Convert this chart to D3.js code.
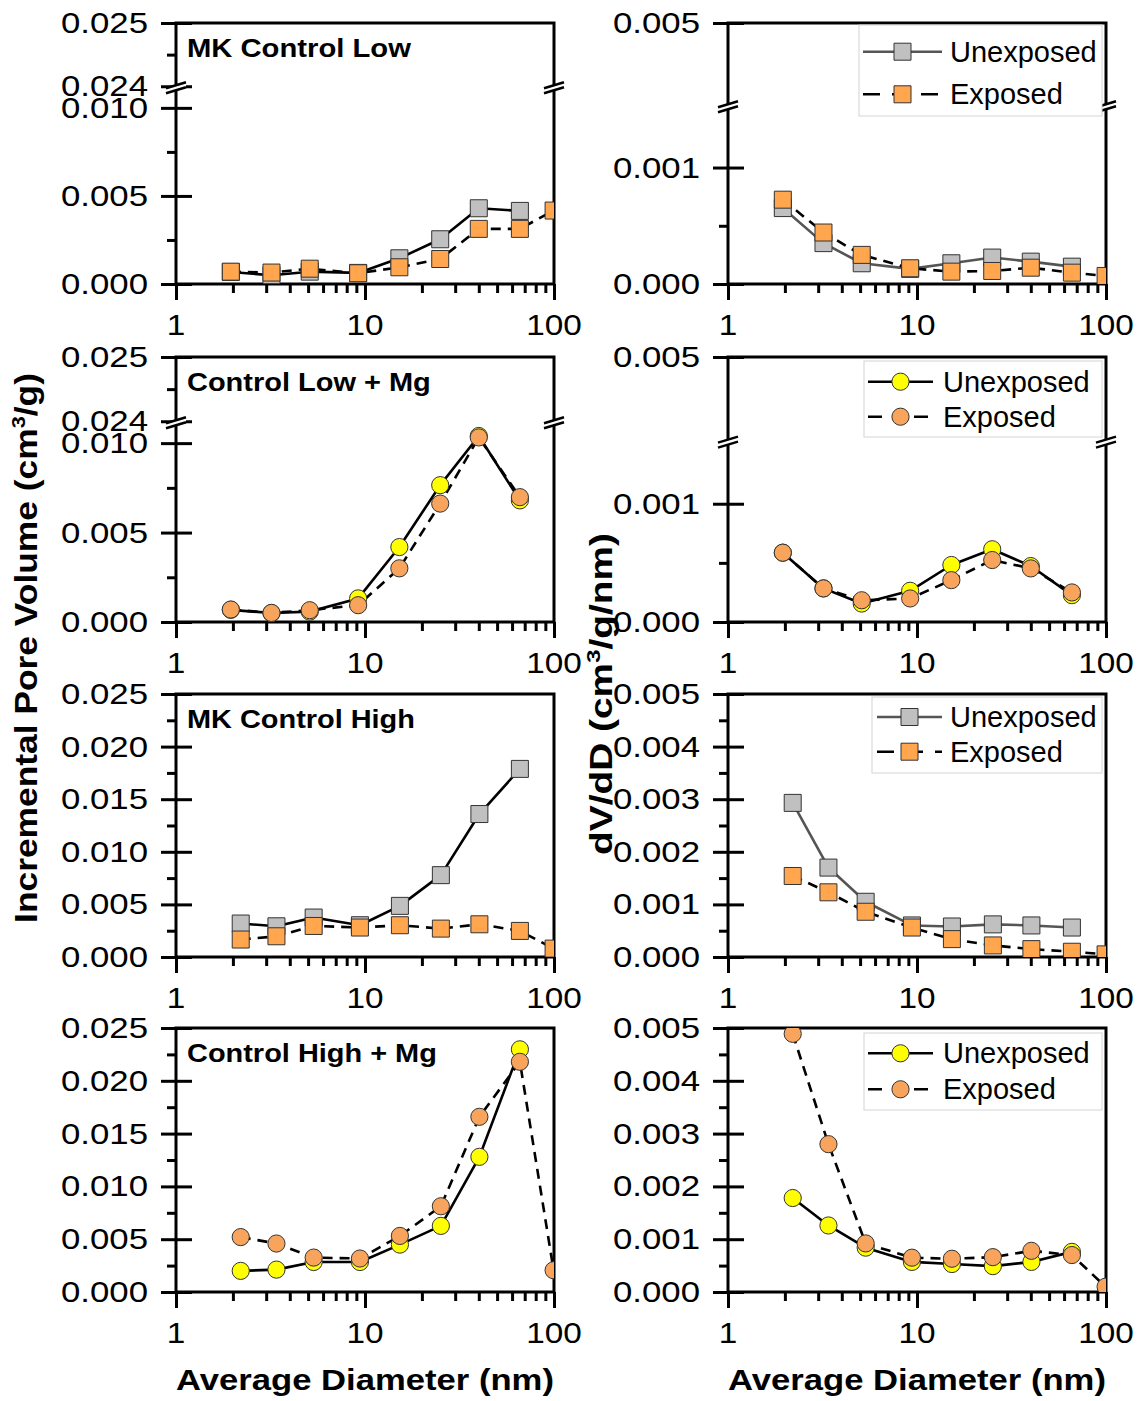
<!DOCTYPE html>
<meta charset="utf-8">
<script src="https://d3js.org/d3.v7.min.js"></script>
<style>
  body { margin: 0; background: #fff; }
  text { font-family: "Liberation Sans", Arial, sans-serif; fill: #000; }
</style>
<div id="chart"></div>
<script>
const diamLow  = [1.95, 3.2, 5.1, 9.2, 15.2, 25, 40, 66, 99.5];
const diamHigh = [2.2, 3.4, 5.35, 9.4, 15.3, 25.2, 40.3, 66, 99.5];

// incremental pore volume (cm3/g)
const mkLowIpvUnexp  = [0.00068, 0.0005, 0.0007, 0.00063, 0.00146, 0.00254, 0.0043, 0.00415];
const mkLowIpvExp    = [0.0007, 0.00065, 0.00087, 0.00061, 0.00095, 0.00142, 0.00313, 0.00313, 0.00417];
const mgLowIpvUnexp  = [0.00068, 0.0005, 0.00058, 0.00132, 0.00419, 0.00765, 0.0104, 0.0068];
const mgLowIpvExp    = [0.0007, 0.00051, 0.00066, 0.00094, 0.003, 0.00662, 0.01032, 0.00698];
const mkHighIpvUnexp = [0.00318, 0.00292, 0.00375, 0.00302, 0.00486, 0.00778, 0.01359, 0.01788];
const mkHighIpvExp   = [0.00166, 0.00197, 0.00295, 0.0028, 0.00302, 0.0027, 0.00311, 0.00248, 0.0008];
const mgHighIpvUnexp = [0.002, 0.00212, 0.00284, 0.00284, 0.00449, 0.00626, 0.0128, 0.02298];
const mgHighIpvExp   = [0.0052, 0.00459, 0.00326, 0.00317, 0.00531, 0.00812, 0.01659, 0.0218, 0.00206];

// dV/dD (cm3/g/nm)
const mkLowDvUnexp  = [0.000652, 0.000351, 0.000178, 0.00013, 0.000178, 0.000227, 0.000192, 0.000149];
const mkLowDvExp    = [0.000724, 0.000442, 0.00025, 0.000135, 0.000106, 0.000112, 0.00014, 0.0000974, 0.000069];
const mgLowDvUnexp  = [0.000586, 0.000284, 0.000156, 0.000264, 0.000482, 0.000615, 0.000473, 0.000227];
const mgLowDvExp    = [0.000586, 0.000284, 0.000184, 0.000199, 0.000354, 0.000524, 0.000453, 0.00025];
const mkHighDvUnexp = [0.00293, 0.0017, 0.00105, 0.0006, 0.00058, 0.00062, 0.0006, 0.00056];
const mkHighDvExp   = [0.00154, 0.00123, 0.00086, 0.00056, 0.00034, 0.00022, 0.00015, 0.0001, 0.00005];
const mgHighDvUnexp = [0.00178, 0.00126, 0.00084, 0.00057, 0.00053, 0.00049, 0.00057, 0.00076];
const mgHighDvExp   = [0.00489, 0.0028, 0.00092, 0.00065, 0.00063, 0.00066, 0.00078, 0.0007, 0.0001];

// ticks
const xMajor = [1, 10, 100];
const xMinor = [2, 3, 4, 5, 6, 7, 8, 9, 20, 30, 40, 50, 60, 70, 80, 90];
const ipvBrokenMajor = [0, 0.005, 0.010, 0.024, 0.025];
const ipvBrokenMinor = [0.0025, 0.0075, 0.0245];
const dvBrokenMajor = [0, 0.001, 0.005];
const dvBrokenMinor = [0.0005];
const ipvMajor = [0, 0.005, 0.010, 0.015, 0.020, 0.025];
const ipvMinor = [0.0025, 0.0075, 0.0125, 0.0175, 0.0225];
const dvMajor = [0, 0.001, 0.002, 0.003, 0.004, 0.005];
const dvMinor = [0.0005, 0.0015, 0.0025, 0.0035, 0.0045];

const seriesNames = ["Unexposed", "Exposed"];
const panelTitles = ["MK Control Low", "Control Low + Mg", "MK Control High", "Control High + Mg"];

// layout
const colX = [176, 728], plotW = 378;
const rowY = [[23, 284], [357, 622], [694, 957], [1028, 1292]];

const tickSets = {
  ipvBroken: [ipvBrokenMajor, ipvBrokenMinor],
  dvBroken: [dvBrokenMajor, dvBrokenMinor],
  ipv: [ipvMajor, ipvMinor],
  dv: [dvMajor, dvMinor]
};

const panels = [
  {row: 0, col: 0, mark: "sq", title: panelTitles[0], tw: 224, diam: diamLow, unexp: mkLowIpvUnexp, exp: mkLowIpvExp, axis: "ipvBroken"},
  {row: 0, col: 1, mark: "sq", diam: diamLow, unexp: mkLowDvUnexp, exp: mkLowDvExp, axis: "dvBroken",
    legend: {x: 131, y: 2, w: 243, h: 91, l0: 135, l1: 214, tx: 222, r: [28.7, 71.3]}},
  {row: 1, col: 0, mark: "ci", title: panelTitles[1], tw: 244, diam: diamLow, unexp: mgLowIpvUnexp, exp: mgLowIpvExp, axis: "ipvBroken"},
  {row: 1, col: 1, mark: "ci", diam: diamLow, unexp: mgLowDvUnexp, exp: mgLowDvExp, axis: "dvBroken",
    legend: {x: 136, y: 4, w: 238, h: 76, l0: 140, l1: 205, tx: 215, r: [24.7, 59.7]}},
  {row: 2, col: 0, mark: "sq", title: panelTitles[2], tw: 228, diam: diamHigh, unexp: mkHighIpvUnexp, exp: mkHighIpvExp, axis: "ipv"},
  {row: 2, col: 1, mark: "sq", diam: diamHigh, unexp: mkHighDvUnexp, exp: mkHighDvExp, axis: "dv",
    legend: {x: 144, y: 3, w: 230, h: 76, l0: 149, l1: 214, tx: 222, r: [23, 57.7]}},
  {row: 3, col: 0, mark: "ci", title: panelTitles[3], tw: 250, diam: diamHigh, unexp: mgHighIpvUnexp, exp: mgHighIpvExp, axis: "ipv"},
  {row: 3, col: 1, mark: "ci", diam: diamHigh, unexp: mgHighDvUnexp, exp: mgHighDvExp, axis: "dv",
    legend: {x: 136, y: 5, w: 238, h: 77, l0: 140, l1: 205, tx: 215, r: [25.3, 61.3]}}
];

const svg = d3.select("#chart").append("svg")
  .attr("width", 1137).attr("height", 1401);
svg.append("rect").attr("width", 1137).attr("height", 1401).attr("fill", "#fff");

const fmt = d3.format(".3f");
const sqSym = d3.symbol().type(d3.symbolSquare).size(17 * 17);
const ciSym = d3.symbol().type(d3.symbolCircle).size(Math.PI * 8.6 * 8.6);

function makeY(axis, top, bottom) {
  const h = bottom - top;
  if (axis === "ipvBroken") {
    const b = bottom - 0.75 * h;
    return {y: d3.scaleLinear().domain([0, 0.011, 0.024, 0.025]).range([bottom, b + 2, b - 2, top]), brk: b};
  }
  if (axis === "dvBroken") {
    const b = bottom - 0.677 * h;
    return {y: d3.scaleLinear().domain([0, 0.0015, 0.0045, 0.005]).range([bottom, b + 2, b - 2, top]), brk: b};
  }
  if (axis === "ipv") return {y: d3.scaleLinear().domain([0, 0.025]).range([bottom, top])};
  return {y: d3.scaleLinear().domain([0, 0.005]).range([bottom, top])};
}

function styleAxis(sel) {
  sel.select(".domain").remove();
  sel.selectAll(".tick line").attr("stroke", "#000").attr("stroke-width", 3);
}

function breakMark(g, cx, cy) {
  g.append("polygon")
    .attr("points", `${cx - 10},${cy + 2} ${cx + 10},${cy - 4} ${cx + 10},${cy + 1} ${cx - 10},${cy + 7}`)
    .attr("fill", "#fff");
  g.append("line").attr("x1", cx - 10).attr("y1", cy + 2).attr("x2", cx + 10).attr("y2", cy - 4)
    .attr("stroke", "#000").attr("stroke-width", 2.5);
  g.append("line").attr("x1", cx - 10).attr("y1", cy + 7).attr("x2", cx + 10).attr("y2", cy + 1)
    .attr("stroke", "#000").attr("stroke-width", 2.5);
}

panels.forEach((p, i) => {
  const x0 = colX[p.col], x1 = x0 + plotW;
  const [top, bottom] = rowY[p.row];
  const x = d3.scaleLog().domain([1, 100]).range([x0, x1]);
  const {y, brk} = makeY(p.axis, top, bottom);
  const [major, minor] = tickSets[p.axis];
  const g = svg.append("g");

  svg.append("clipPath").attr("id", "clip" + i)
    .append("rect").attr("x", x0).attr("y", top).attr("width", plotW).attr("height", bottom - top);

  // x axis
  g.append("g").attr("transform", `translate(0,${bottom})`)
    .call(d3.axisBottom(x).tickValues(xMajor).tickSize(16).tickFormat(""))
    .call(styleAxis);
  g.append("g").attr("transform", `translate(0,${bottom})`)
    .call(d3.axisBottom(x).tickValues(xMinor).tickSize(9).tickFormat(""))
    .call(styleAxis);
  g.selectAll(".xlab").data(xMajor).join("text")
    .attr("transform", d => `translate(${x(d)},${bottom + 51}) scale(1.15,1)`)
    .attr("text-anchor", "middle").attr("font-size", 29)
    .text(d => d);

  // y axis
  g.append("g").attr("transform", `translate(${x0},0)`)
    .call(d3.axisLeft(y).tickValues(major).tickSize(15).tickFormat(""))
    .call(styleAxis);
  g.append("g").attr("transform", `translate(${x0},0)`)
    .call(d3.axisRight(y).tickValues(major).tickSize(16).tickFormat(""))
    .call(styleAxis);
  g.append("g").attr("transform", `translate(${x0},0)`)
    .call(d3.axisLeft(y).tickValues(minor).tickSize(9).tickFormat(""))
    .call(styleAxis);
  g.selectAll(".ylab").data(major).join("text")
    .attr("transform", d => `translate(${x0 - 28},${y(d) + 10}) scale(1.2,1)`)
    .attr("text-anchor", "end").attr("font-size", 29)
    .text(d => fmt(d));

  // frame
  g.append("rect").attr("x", x0).attr("y", top).attr("width", plotW).attr("height", bottom - top)
    .attr("fill", "none").attr("stroke", "#000").attr("stroke-width", 3);

  if (brk !== undefined) {
    breakMark(g, x0, brk - 2);
    breakMark(g, x1, brk - 2);
  }

  // data
  const isSq = p.mark === "sq";
  const sym = isSq ? sqSym : ciSym;
  const unexpLine = isSq && p.col === 1 ? "#555" : "#000";
  const unexpFill = isSq ? "#c0c0c0" : "#ffff00";
  const expFill = isSq ? "#ffa64f" : "#f8a45c";
  const unexpPts = d3.zip(p.diam, p.unexp);
  const expPts = d3.zip(p.diam, p.exp);
  const line = d3.line().x(d => x(d[0])).y(d => y(d[1]));
  const dg = g.append("g").attr("clip-path", `url(#clip${i})`);

  dg.append("path").datum(unexpPts).attr("d", line)
    .attr("fill", "none").attr("stroke", unexpLine).attr("stroke-width", 2.6).attr("stroke-linejoin", "round");
  dg.append("path").datum(expPts).attr("d", line)
    .attr("fill", "none").attr("stroke", "#000").attr("stroke-width", 2.6)
    .attr("stroke-dasharray", "10,7");
  dg.selectAll(".mu").data(unexpPts).join("path")
    .attr("transform", d => `translate(${x(d[0])},${y(d[1])})`)
    .attr("d", sym).attr("fill", unexpFill).attr("stroke", "#333").attr("stroke-width", 1);
  dg.selectAll(".me").data(expPts).join("path")
    .attr("transform", d => `translate(${x(d[0])},${y(d[1])})`)
    .attr("d", sym).attr("fill", expFill).attr("stroke", "#333").attr("stroke-width", 1);

  // panel title
  if (p.title) {
    const tg = g.append("g");
    const t = tg.append("text").attr("font-size", 26).attr("font-weight", "bold").text(p.title);
    const s = p.tw / t.node().getComputedTextLength();
    tg.attr("transform", `translate(${x0 + 11},${top + 34}) scale(${s},1)`);
  }

  // legend
  if (p.legend) {
    const L = p.legend;
    const lg = g.append("g").attr("transform", `translate(${x0},${top})`);
    lg.append("rect").attr("x", L.x).attr("y", L.y).attr("width", L.w).attr("height", L.h)
      .attr("fill", "#fff").attr("stroke", "#d4d4d4").attr("stroke-width", 1);
    seriesNames.forEach((name, k) => {
      const ry = L.r[k];
      const mx = (L.l0 + L.l1) / 2;
      lg.append("line").attr("x1", L.l0).attr("x2", L.l1).attr("y1", ry).attr("y2", ry)
        .attr("stroke", k === 0 ? unexpLine : "#000").attr("stroke-width", 2.6)
        .attr("stroke-dasharray", k === 0 ? null : (isSq ? "17,12" : "14,14,8,10"));
      lg.append("path").attr("transform", `translate(${mx},${ry})`).attr("d", sym)
        .attr("fill", k === 0 ? unexpFill : expFill).attr("stroke", "#333").attr("stroke-width", 1);
      lg.append("text").attr("x", L.tx).attr("y", ry + 10).attr("font-size", 29).text(name);
    });
  }
});

// axis titles
function rotTitle(cx, cy, target, parts) {
  const tg = svg.append("g");
  const t = tg.append("text").attr("font-size", 31).attr("font-weight", "bold").attr("text-anchor", "middle");
  t.append("tspan").text(parts[0]);
  t.append("tspan").attr("font-size", 19).attr("dy", -12).text("3");
  t.append("tspan").attr("dy", 12).text(parts[1]);
  const s = target / t.node().getComputedTextLength();
  tg.attr("transform", `translate(${cx},${cy}) rotate(-90) scale(${s},1)`);
}
rotTitle(37, 648, 550, ["Incremental Pore Volume (cm", "/g)"]);
rotTitle(612, 694, 322, ["dV/dD (cm", "/g/nm)"]);

colX.forEach(cx => {
  const tg = svg.append("g");
  const t = tg.append("text").attr("font-size", 30).attr("font-weight", "bold")
    .attr("text-anchor", "middle").text("Average Diameter (nm)");
  const s = 378 / t.node().getComputedTextLength();
  tg.attr("transform", `translate(${cx + plotW / 2},1390) scale(${s},1)`);
});
</script>
